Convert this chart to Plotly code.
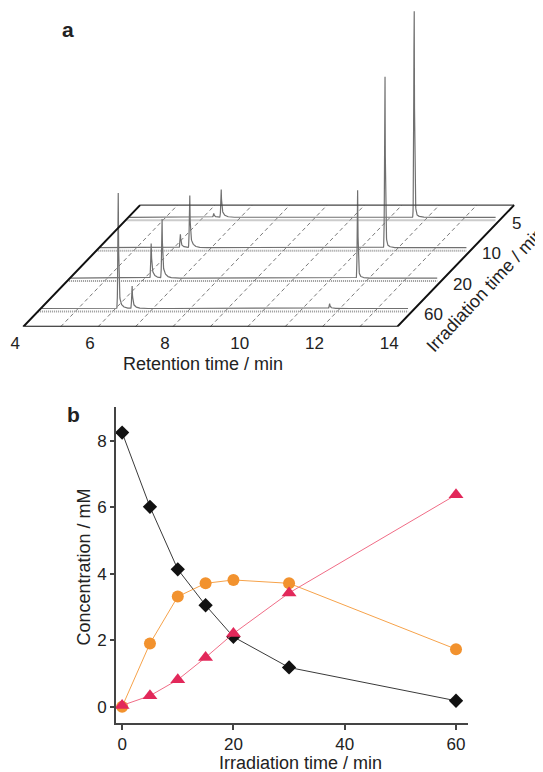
import numpy as np
import plotly.graph_objects as go

# ---------------- Panel a data (chromatograms) ----------------
irr_labels = ["5", "10", "20", "60"]            # back -> front
peak_times = [                                   # retention time of each peak / min
    [6.36, 6.56, 11.72],
    [6.25, 6.50, 11.72],
    [6.25, 6.54, 11.77],
    [6.15, 6.52, 11.80],
]
peak_heights = [                                 # peak heights (arb. units)
    [4.0, 27.6, 206.0],
    [13.5, 52.0, 171.0],
    [35.0, 59.0, 89.0],
    [117.0, 22.5, 5.0],
]
peak_tails = [                                   # fraction of height in the slow tail
    [0.30, 0.30, 0.03],
    [0.30, 0.25, 0.04],
    [0.30, 0.25, 0.06],
    [0.12, 0.30, 0.30],
]
baseline_offset = 3.0
rt_start, rt_end = 4.1, 13.9
ret_ticks = [4, 6, 8, 10, 12, 14]
grid_times = [5, 6, 7, 8, 9, 10, 11, 12, 13]

# ---------------- Panel b data ----------------
irr_time = [0, 5, 10, 15, 20, 30, 60]
conc_black = [8.24, 6.01, 4.13, 3.05, 2.10, 1.18, 0.18]
conc_orange = [0.0, 1.90, 3.31, 3.71, 3.81, 3.71, 1.73]
conc_red = [0.04, 0.33, 0.81, 1.48, 2.20, 3.42, 6.37]

# ---------------- geometry / style ----------------
OFF = 8                      # page body margin of the html page
W, H = 543 - OFF, 772 - OFF  # figure size so that it fits the window
FONT = "Liberation Sans, Arial, Helvetica, sans-serif"
ppm = 37.4          # px per minute along retention axis
front_x0 = 23.3 - OFF    # px position of t=4 on the front edge
front_y = 326.7 - OFF    # px (from top) of the front edge
ddx, ddy = 29.2, 30.4    # px shift per depth unit
n_depth = 4
depths = [3.5, 2.5, 1.5, 0.5]


def px(xr):
    return (xr - OFF) / W


def py(yr):
    return 1 - (yr - OFF) / H


def proj(t, d, h=0.0):
    t = np.atleast_1d(np.asarray(t, dtype=float))
    h = np.broadcast_to(np.asarray(h, dtype=float), t.shape)
    return (t + d * ddx / ppm).tolist(), (d * ddy + h).tolist()


def peak(t, t0, h, tail):
    dt = t - t0
    dtp = np.clip(dt, 0, None)
    left = np.exp(-0.5 * (dt / 0.012) ** 2)
    right = (1 - tail) * np.exp(-dtp / 0.012) + tail * np.exp(-dtp / 0.07)
    return h * np.where(dt < 0, left, right)


fig = go.Figure()

# dashed grid lines on the floor
for g in grid_times:
    x0, y0 = proj(g, 0)
    x1, y1 = proj(g, n_depth)
    fig.add_trace(go.Scatter(x=x0 + x1, y=y0 + y1, mode="lines",
                             line=dict(color="#555", width=0.8, dash="4px,3px"),
                             xaxis="x", yaxis="y", hoverinfo="skip", showlegend=False))

# dotted zero lines + chromatograms
t = np.arange(rt_start, rt_end, 0.004)
for k, d in enumerate(depths):
    xs, ys = proj([4.0, rt_end], d)
    fig.add_trace(go.Scatter(x=xs, y=ys, mode="lines",
                             line=dict(color="#999", width=2, dash="1px,1px"),
                             xaxis="x", yaxis="y", hoverinfo="skip", showlegend=False))
    sig = np.full_like(t, baseline_offset)
    for t0, h, tl in zip(peak_times[k], peak_heights[k], peak_tails[k]):
        sig = sig + peak(t, t0, h, tl)
    xs, ys = proj(t, d, sig)
    fig.add_trace(go.Scatter(x=xs, y=ys, mode="lines",
                             line=dict(color="#707070", width=1.2),
                             xaxis="x", yaxis="y", hoverinfo="skip", showlegend=False))

# floor edges
bx0, by0 = proj(4, n_depth)
bx1, by1 = proj(14, n_depth)
fx, fy = proj([4, 14], 0)
fig.add_trace(go.Scatter(x=bx0 + bx1, y=by0 + by1, mode="lines",
                         line=dict(color="#444", width=1.3),
                         xaxis="x", yaxis="y", hoverinfo="skip", showlegend=False))
fig.add_trace(go.Scatter(x=bx0 + fx + bx1, y=by0 + fy + by1, mode="lines",
                         line=dict(color="#111", width=2),
                         xaxis="x", yaxis="y", hoverinfo="skip", showlegend=False))

# ---------------- Panel b ----------------
fig.add_trace(go.Scatter(x=irr_time, y=conc_black, mode="lines+markers",
                         line=dict(color="#3a3a3a", width=1),
                         marker=dict(symbol="diamond", size=11, color="#111"),
                         xaxis="x2", yaxis="y2", showlegend=False))
fig.add_trace(go.Scatter(x=irr_time, y=conc_orange, mode="lines+markers",
                         line=dict(color="#F6A24A", width=1),
                         marker=dict(symbol="circle", size=12, color="#F2922E"),
                         xaxis="x2", yaxis="y2", showlegend=False))
fig.add_trace(go.Scatter(x=irr_time, y=conc_red, mode="lines+markers",
                         line=dict(color="#F06C86", width=1),
                         marker=dict(symbol="triangle-up", size=13, color="#E2285A"),
                         xaxis="x2", yaxis="y2", showlegend=False))


def note(text, xr, yr, size=18, angle=0):
    return dict(text=text, x=px(xr), y=py(yr), xref="paper", yref="paper",
                xanchor="center", yanchor="middle", textangle=angle, showarrow=False,
                font=dict(size=size, color="#222", family=FONT))


ann = [
    note("<b>a</b>", 68, 30, size=21),
    note("<b>b</b>", 73.3, 414, size=21),
    note("Retention time / min", 202.7, 364),
    note("Irradiation time / min", 485, 290, angle=-47),
    note("Irradiation time / min", 300, 763),
    note("Concentration / mM", 83, 567.5, angle=-90),
]
for lab, d in zip(irr_labels, depths):
    xl, yl = proj(14, d)
    ann.append(dict(text=lab, x=xl[0], y=yl[0], xref="x", yref="y", xanchor="left",
                    yanchor="middle", xshift=10, yshift=-3, showarrow=False,
                    font=dict(size=17, color="#222", family=FONT)))

fig.update_layout(
    width=W, height=H, margin=dict(l=0, r=0, t=0, b=0),
    paper_bgcolor="white", plot_bgcolor="rgba(0,0,0,0)",
    font=dict(family=FONT, size=17, color="#222"),
    xaxis=dict(domain=[0, 1], range=[4 - front_x0 / ppm, 4 + (W - front_x0) / ppm],
               anchor="y", showline=False, showgrid=False, zeroline=False, ticks="",
               tickvals=ret_ticks, ticktext=[str(v) for v in ret_ticks],
               ticklabelshift=-8, ticklabelstandoff=4, tickfont=dict(size=17)),
    yaxis=dict(domain=[(H - front_y) / H, 1], range=[0, front_y], anchor="x",
               visible=False),
    xaxis2=dict(domain=[px(116), px(467.7)], range=[-1.1, 62.1], anchor="y2",
                showline=True, linecolor="#444", linewidth=1.8, showgrid=False, zeroline=False,
                ticks="outside", ticklen=5, tickwidth=1.5, tickcolor="#444",
                tickvals=[0, 20, 40, 60], tickfont=dict(size=17)),
    yaxis2=dict(domain=[py(722.7), py(407.3)], range=[-0.48, 9], anchor="x2",
                showline=True, linecolor="#444", linewidth=1.8, showgrid=False, zeroline=False,
                ticks="outside", ticklen=4, tickwidth=1.5, tickcolor="#444",
                tickvals=[0, 2, 4, 6, 8], tickfont=dict(size=17)),
    annotations=ann,
)

fig.write_html("out.html")
